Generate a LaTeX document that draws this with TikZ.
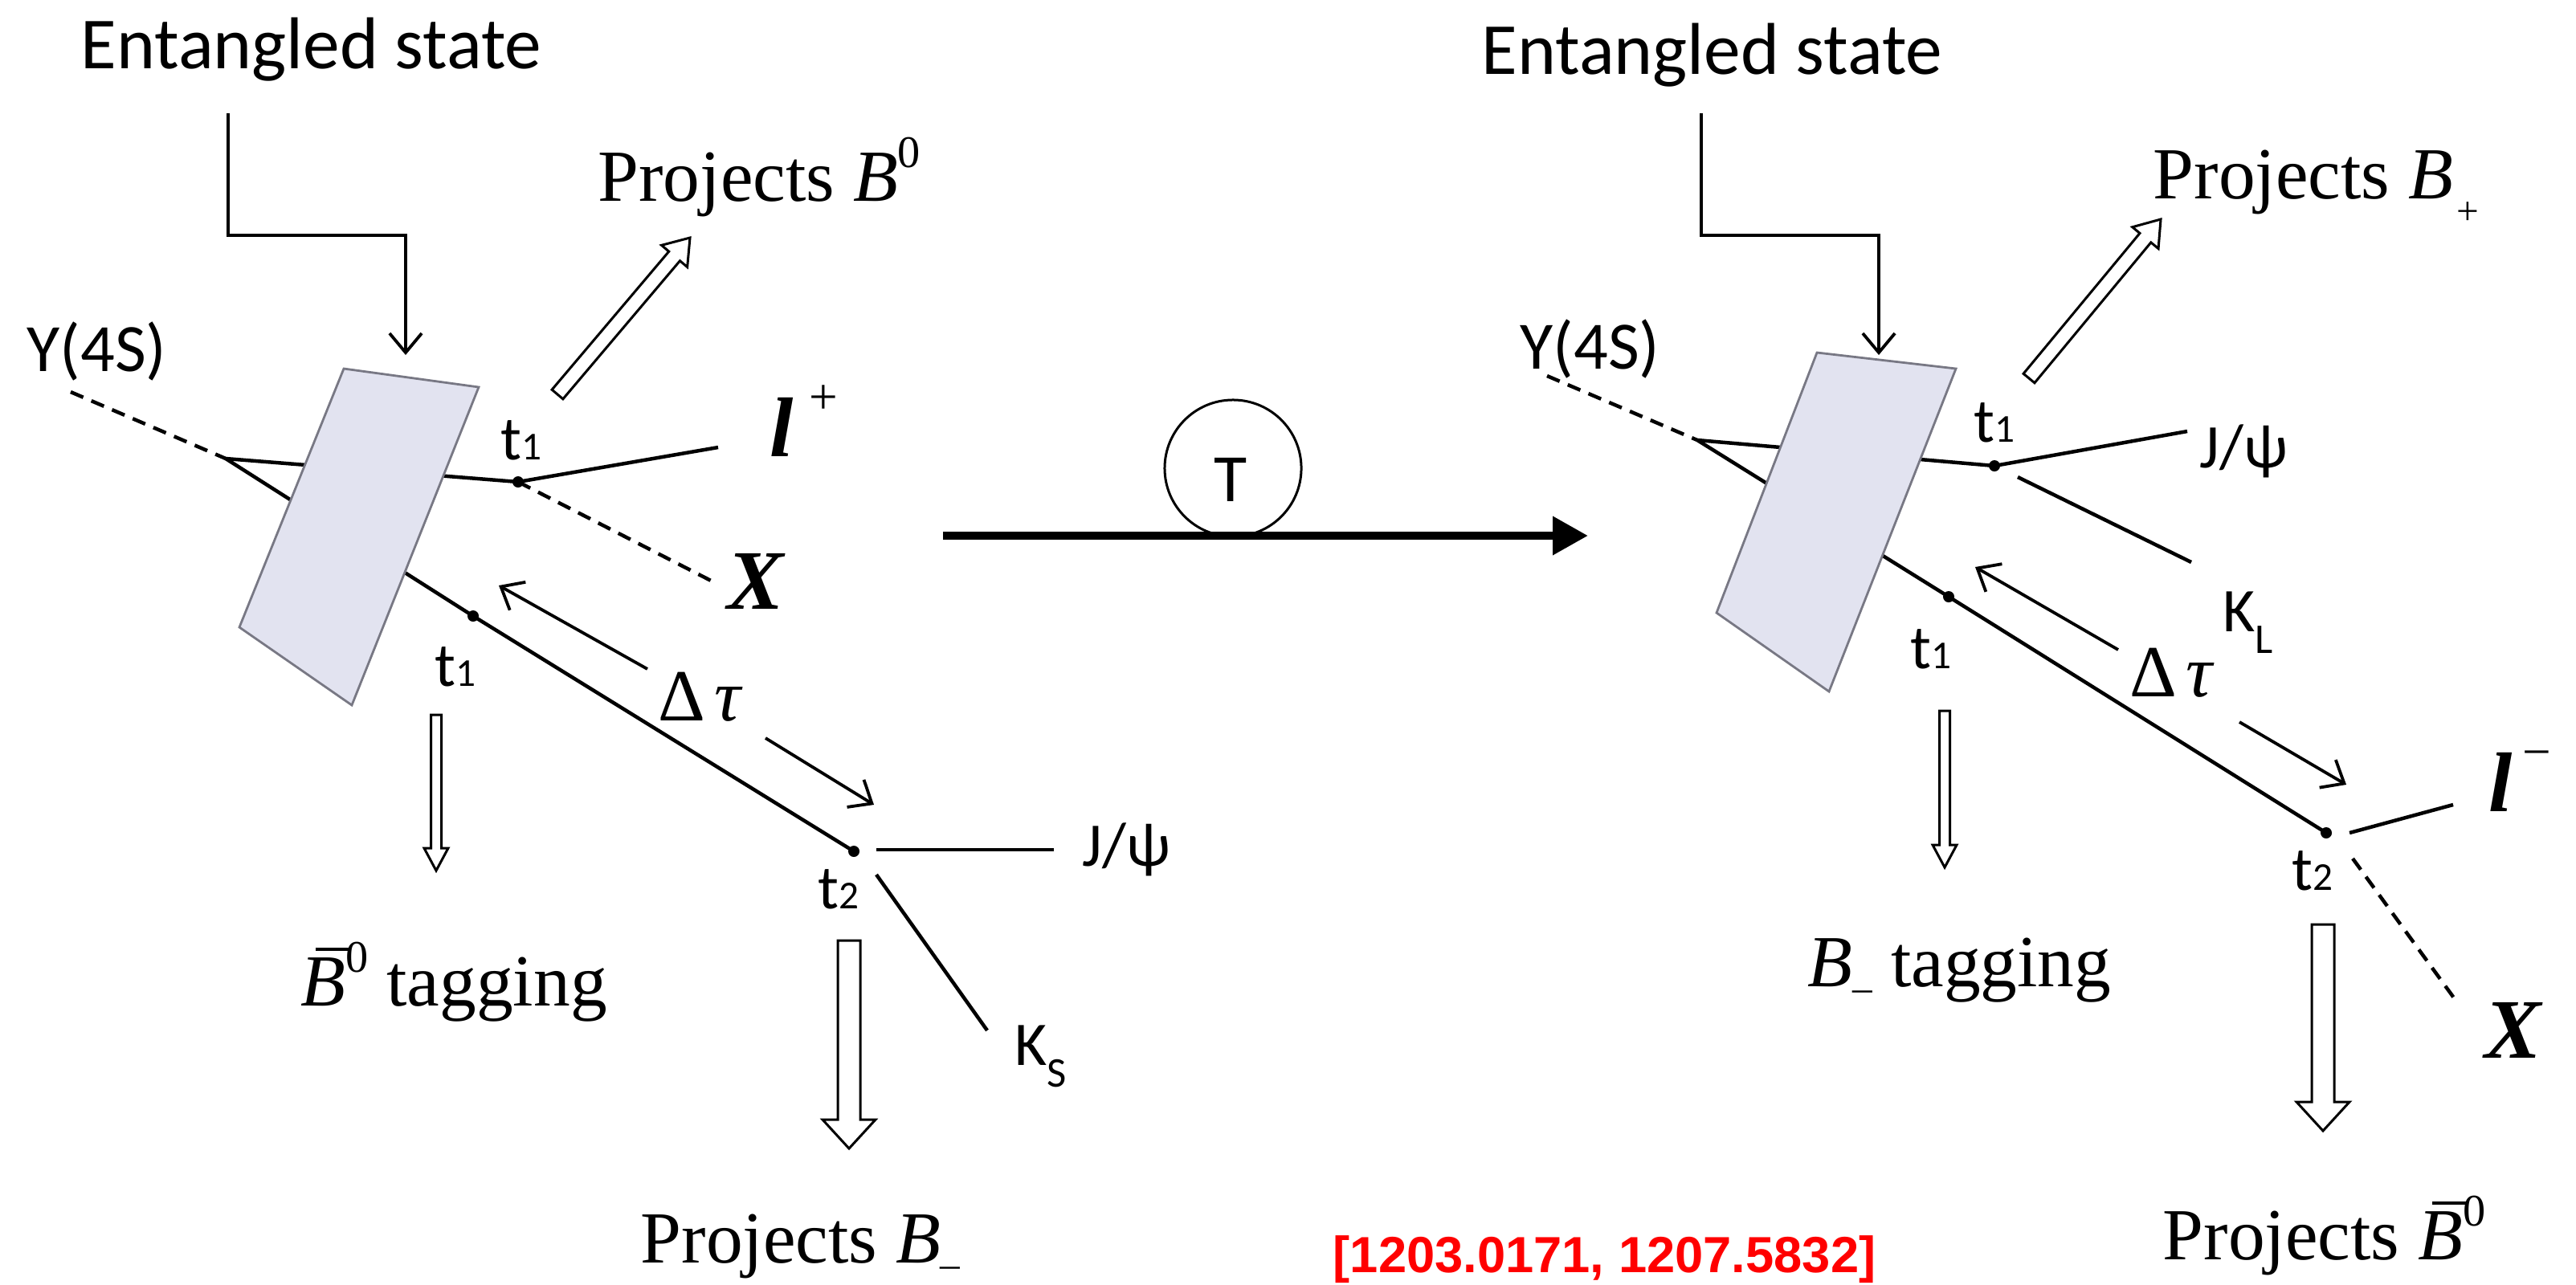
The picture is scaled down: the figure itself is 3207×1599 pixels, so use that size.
\documentclass[tikz,border=0pt]{standalone}
\usepackage{fontspec}
\setmainfont{Liberation Serif}
\newfontfamily\calib{Carlito}
\newfontfamily\reffont{Liberation Sans}
\usetikzlibrary{arrows.meta,calc}

\definecolor{planefill}{RGB}{226,227,240}
\definecolor{planeedge}{RGB}{120,120,132}

% 空心箭头：起点，终点，半杆宽，半头宽，头长
\newcommand{\hollowarrow}[5]{%
  \coordinate (neck) at ($(#2)!#5!(#1)$);
  \draw[hollow] ($(#1)!#3!90:(#2)$) -- ($(neck)!#3!90:(#2)$) -- ($(neck)!#4!90:(#2)$) -- (#2)
    -- ($(neck)!#4!-90:(#2)$) -- ($(neck)!#3!-90:(#2)$) -- ($(#1)!#3!-90:(#2)$) -- cycle;}
\newcommand{\tsub}[1]{t{\fontsize{14}{14}\selectfont #1}}
\newcommand{\ksub}[1]{\raisebox{-0.35em}{\fontsize{15}{15}\selectfont #1}}
\newcommand{\supz}{\raisebox{0.45em}{\fontsize{16}{16}\selectfont 0}}
\newcommand{\barB}{\leavevmode\rlap{\hspace{0.2em}\rule[0.74em]{0.48em}{0.045em}}{\itshape B}}

\begin{document}
\begin{tikzpicture}[x=0.01cm,y=-0.01cm,
    track/.style={line width=0.45mm},
    trackdash/.style={line width=0.45mm,dash pattern=on 1.7mm off 1.1mm},
    pointer/.style={line width=0.38mm,-{Straight Barb[length=2.4mm,width=4mm]}},
    plane/.style={fill=planefill,draw=planeedge,line width=0.28mm},
    hollow/.style={draw,fill=white,line width=0.3mm},
    sans/.style={inner sep=0,font=\calib\fontsize{22}{22}\selectfont},
    sansbig/.style={inner sep=0,font=\calib\fontsize{26}{26}\selectfont},
    serif/.style={inner sep=0,font=\fontsize{26}{26}\selectfont},
    heavy/.style={inner sep=0,font=\fontsize{30}{30}\selectfont\bfseries\itshape}]
\useasboundingbox (0,0) rectangle (3207,1599);

%==================== 左图 ====================
\coordinate (vtx1) at (281,571);
\coordinate (up1) at (645,600);
\coordinate (lo1) at (589,767);
\coordinate (tt1) at (1063,1060);
\coordinate (ups1e) at (88,488);
\coordinate (lp1) at (894,557);
\coordinate (xe1) at (891,726);
\coordinate (jp1s) at (1091,1058);
\coordinate (jp1e) at (1312,1058);
\coordinate (ks1s) at (1091,1089);
\coordinate (ks1e) at (1229,1283);
\coordinate (da1s) at (806,833);
\coordinate (da1e) at (621,729);
\coordinate (db1s) at (953,919);
\coordinate (db1e) at (1088,1002);
\coordinate (el1a) at (284,141);
\coordinate (el1t) at (505,442);

\node[sansbig,anchor=base west] (ent1) at (100,85) {Entangled state};
\node[sans,font=\calib\fontsize{24}{24}\selectfont,anchor=base west] (ups1) at (33,462) {Υ(4S)};

% 衰变线（平面后面）
\draw[trackdash] (ups1e) -- (vtx1);
\draw[track] (vtx1) -- (up1);
\draw[track] (vtx1) -- (lo1) -- (tt1);
\draw[plane] (428,459) -- (596,482) -- (438,878) -- (298,781) -- cycle;

\draw[pointer] (el1a) |- (505,293) -- (el1t);
\draw[track] (up1) -- (lp1);
\draw[trackdash] (up1) -- (xe1);
\draw[track] (jp1s) -- (jp1e);
\draw[track] (ks1s) -- (ks1e);
\draw[pointer] (da1s) -- (da1e);
\draw[pointer] (db1s) -- (db1e);

\node[sans] (t1a) at (649,548) {\tsub{1}};
\node[sans] (t1b) at (567,830) {\tsub{1}};
\node[sans] (t2a) at (1044,1107) {\tsub{2}};
\node[sans,anchor=base west] (jpsi1) at (1347,1078) {J/ψ};
\node[sans,anchor=base west] (ks1) at (1263,1326) {K\ksub{S}};
\node[heavy,anchor=base west] (lep1) at (958,568) {l\raisebox{0.5em}{\fontsize{18}{18}\selectfont\mdseries\upshape\hspace{0.3em}+}};
\node[heavy,anchor=base west] (xlab1) at (905,758) {X};
\node[serif,anchor=base west] (dtau1) at (819,897) {Δ\hspace{3pt}{\itshape τ}};

\coordinate (hp1s) at (694,491);
\coordinate (hp1e) at (859,296);
\coordinate (hg1s) at (543,890);
\coordinate (hg1e) at (543,1084);
\coordinate (hb1s) at (1057,1171);
\coordinate (hb1e) at (1057,1430);
\hollowarrow{hp1s}{hp1e}{0.9mm}{2.1mm}{3mm}
\hollowarrow{hg1s}{hg1e}{0.65mm}{1.5mm}{2.8mm}
\hollowarrow{hb1s}{hb1e}{1.4mm}{3.3mm}{3.6mm}

\node[serif,anchor=base west] (projA) at (744,250) {Projects {\itshape B}\supz};
\node[serif,anchor=base west] (tagA) at (374,1252) {\barB\supz\ tagging};
\node[serif,anchor=base west] (projB) at (797,1572) {Projects {\itshape B}\raisebox{-0.2em}{\fontsize{14}{14}\selectfont –}};

%==================== 中间 T ====================
\coordinate (ms) at (1174,667);
\coordinate (me) at (1977,667);
\draw[line width=1mm,-{Triangle[length=4.4mm,width=4.6mm]}] (ms) -- (me);
\node[circle,draw,line width=0.3mm,minimum size=17mm,inner sep=0] (tgate) at (1535,583) {};
\node[sans,font=\calib\fontsize{24}{24}\selectfont] (tlab) at (1532,597) {T};

%==================== 右图 ====================
\coordinate (vtx2) at (2113,548);
\coordinate (up2) at (2483,580);
\coordinate (lo2) at (2426,743);
\coordinate (tt2) at (2896,1037);
\coordinate (ups2e) at (1926,468);
\coordinate (jp2e) at (2723,537);
\coordinate (kl2s) at (2512,594);
\coordinate (kl2e) at (2728,700);
\coordinate (da2s) at (2637,809);
\coordinate (da2e) at (2459,706);
\coordinate (db2s) at (2788,899);
\coordinate (db2e) at (2921,977);
\coordinate (lm2s) at (2925,1037);
\coordinate (lm2e) at (3054,1002);
\coordinate (xe2s) at (2929,1069);
\coordinate (xe2e) at (3059,1248);
\coordinate (el2a) at (2118,141);
\coordinate (el2t) at (2339,442);

\node[sansbig,anchor=base west] (ent2) at (1844,92) {Entangled state};
\node[sans,font=\calib\fontsize{24}{24}\selectfont,anchor=base west] (ups2) at (1892,459) {Υ(4S)};

% 衰变线（平面后面）
\draw[trackdash] (ups2e) -- (vtx2);
\draw[track] (vtx2) -- (up2);
\draw[track] (vtx2) -- (lo2) -- (tt2);
\draw[plane] (2262,439) -- (2435,459) -- (2277,861) -- (2137,763) -- cycle;

\draw[pointer] (el2a) |- (2339,293) -- (el2t);
\draw[track] (up2) -- (jp2e);
\draw[track] (kl2s) -- (kl2e);
\draw[track] (lm2s) -- (lm2e);
\draw[trackdash] (xe2s) -- (xe2e);
\draw[pointer] (da2s) -- (da2e);
\draw[pointer] (db2s) -- (db2e);

\node[sans] (t1c) at (2483,526) {\tsub{1}};
\node[sans] (t1d) at (2404,808) {\tsub{1}};
\node[sans] (t2b) at (2879,1084) {\tsub{2}};
\node[sans,anchor=base west] (jpsi2) at (2738,582) {J/ψ};
\node[sans,anchor=base west] (kl2) at (2767,786) {K\ksub{L}};
\node[heavy,anchor=base west] (lep2) at (3098,1010) {l\raisebox{0.5em}{\fontsize{18}{18}\selectfont\mdseries\upshape\hspace{0.2em}−}};
\node[heavy,anchor=base west] (xlab2) at (3093,1317) {X};
\node[serif,anchor=base west] (dtau2) at (2651,867) {Δ\hspace{3pt}{\itshape τ}};

\coordinate (hp2s) at (2526,471);
\coordinate (hp2e) at (2690,273);
\coordinate (hg2s) at (2421,885);
\coordinate (hg2e) at (2421,1080);
\coordinate (hb2s) at (2892,1151);
\coordinate (hb2e) at (2892,1408);
\hollowarrow{hp2s}{hp2e}{0.9mm}{2.1mm}{3mm}
\hollowarrow{hg2s}{hg2e}{0.65mm}{1.5mm}{2.8mm}
\hollowarrow{hb2s}{hb2e}{1.4mm}{3.3mm}{3.6mm}

\node[serif,anchor=base west] (projC) at (2680,247) {Projects {\itshape B}\raisebox{-0.35em}{\fontsize{14}{14}\selectfont\hspace{0.1em}+}};
\node[serif,anchor=base west] (tagB) at (2250,1228) {{\itshape B}\raisebox{-0.2em}{\fontsize{14}{14}\selectfont –}\ tagging};
\node[serif,anchor=base west] (projD) at (2692,1568) {Projects \barB\supz};

% 顶点
\foreach \d in {up1,lo1,tt1,up2,lo2,tt2}
{
    \fill (\d) circle (0.7mm);
}

% 引用
\node[inner sep=0,anchor=base west,text=red,font=\reffont\bfseries\fontsize{18}{18}\selectfont] (refs) at (1659,1584) {[1203.0171, 1207.5832]};

\end{tikzpicture}
\end{document}
